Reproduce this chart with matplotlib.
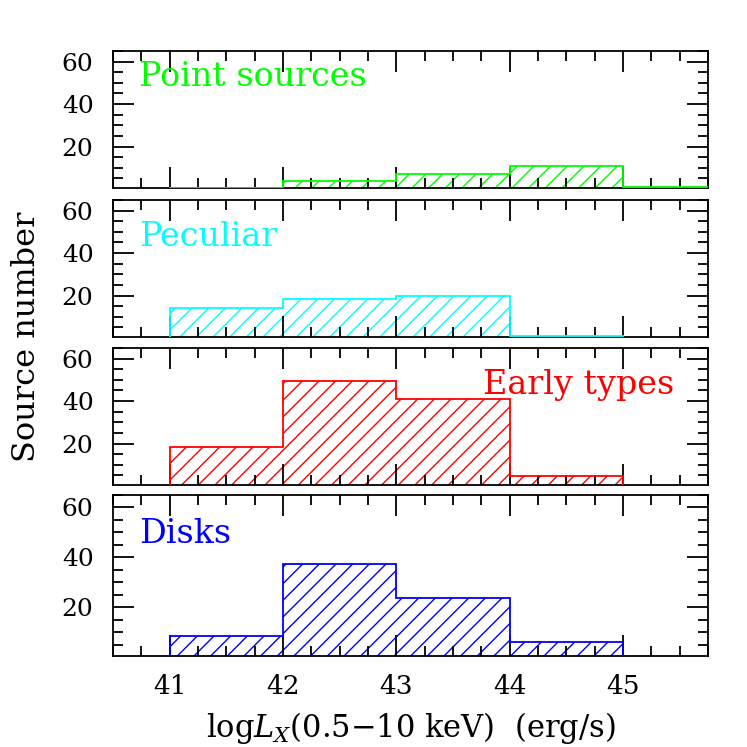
import numpy as np
import matplotlib.pyplot as plt
from matplotlib.ticker import MultipleLocator

plt.rcParams['font.family'] = ['DejaVu Serif']
plt.rcParams['mathtext.fontset'] = 'dejavuserif'
plt.rcParams['hatch.linewidth'] = 1.0

# histogram data: log Lx bins and source counts
edges_point = [41, 42, 43, 44, 45, 46]
point_sources = [0, 3.7, 7.3, 10.9, 1.1]
edges = [41, 42, 43, 44, 45]
peculiar = [14.0, 18.5, 20.0, 1.2]
early_types = [18.6, 49.3, 40.9, 4.9]
disks = [8.5, 37.5, 23.6, 6.0]

labels = ['Point sources', 'Peculiar', 'Early types', 'Disks']
colors = ['#00ff00', 'cyan', 'red', 'blue']
label_xy = [(40.73, 48.3, 'left'), (40.73, 43.5, 'left'),
            (45.45, 43.5, 'right'), (40.73, 45.7, 'left')]

ylo, yhi = 0.5, 65
xlo, xhi = 40.5, 45.75

fig = plt.figure(figsize=(7.47, 7.47), dpi=100)

# panel boxes in figure pixels (top, bottom)
W = H = 747.0
boxes = [(51, 188), (200, 337), (348, 485), (495, 656)]
left, right = 113, 708

series = [(edges_point, point_sources), (edges, peculiar),
          (edges, early_types), (edges, disks)]

axes = []
for i, ((top, bot), (e, v)) in enumerate(zip(boxes, series)):
    ax = fig.add_axes([left / W, 1 - bot / H, (right - left) / W, (bot - top) / H])
    axes.append(ax)
    v = np.maximum(np.array(v, dtype=float), ylo)
    e = np.array(e, dtype=float)
    ax.bar(e[:-1], v, width=np.diff(e), align='edge', bottom=0,
           fill=False, hatch='//', edgecolor=colors[i], linewidth=0)
    ax.stairs(v, e, baseline=0, color=colors[i], linewidth=1.3, zorder=3)
    ax.set_xlim(xlo, xhi)
    ax.set_ylim(ylo, yhi)
    ax.xaxis.set_major_locator(MultipleLocator(1))
    ax.xaxis.set_minor_locator(MultipleLocator(0.25))
    ax.yaxis.set_major_locator(MultipleLocator(20))
    ax.yaxis.set_minor_locator(MultipleLocator(5))
    ax.tick_params(which='both', direction='in', top=True, right=True,
                   labelsize=18, width=1.3)
    ax.tick_params(which='major', length=15)
    ax.tick_params(which='minor', length=7.5)
    ax.tick_params(axis='y', pad=14)
    ax.set_yticks([20, 40, 60])
    if i < 3:
        ax.tick_params(labelbottom=False)
    for s in ax.spines.values():
        s.set_linewidth(1.3)
    tx, ty, ha = label_xy[i]
    ax.text(tx, ty, labels[i], color=colors[i], fontsize=24, ha=ha, va='baseline')

axes[-1].set_xticks([41, 42, 43, 44, 45])
axes[-1].tick_params(axis='x', pad=13, labelsize=19)
axes[-1].set_xlabel(r'log$L_X$(0.5$-$10 keV)  (erg/s)', fontsize=22, labelpad=8)

fig.text(27 / W, 1 - 337 / H, 'Source number', rotation=90, fontsize=23,
         ha='center', va='center')

fig.savefig('out.png', dpi=100)
